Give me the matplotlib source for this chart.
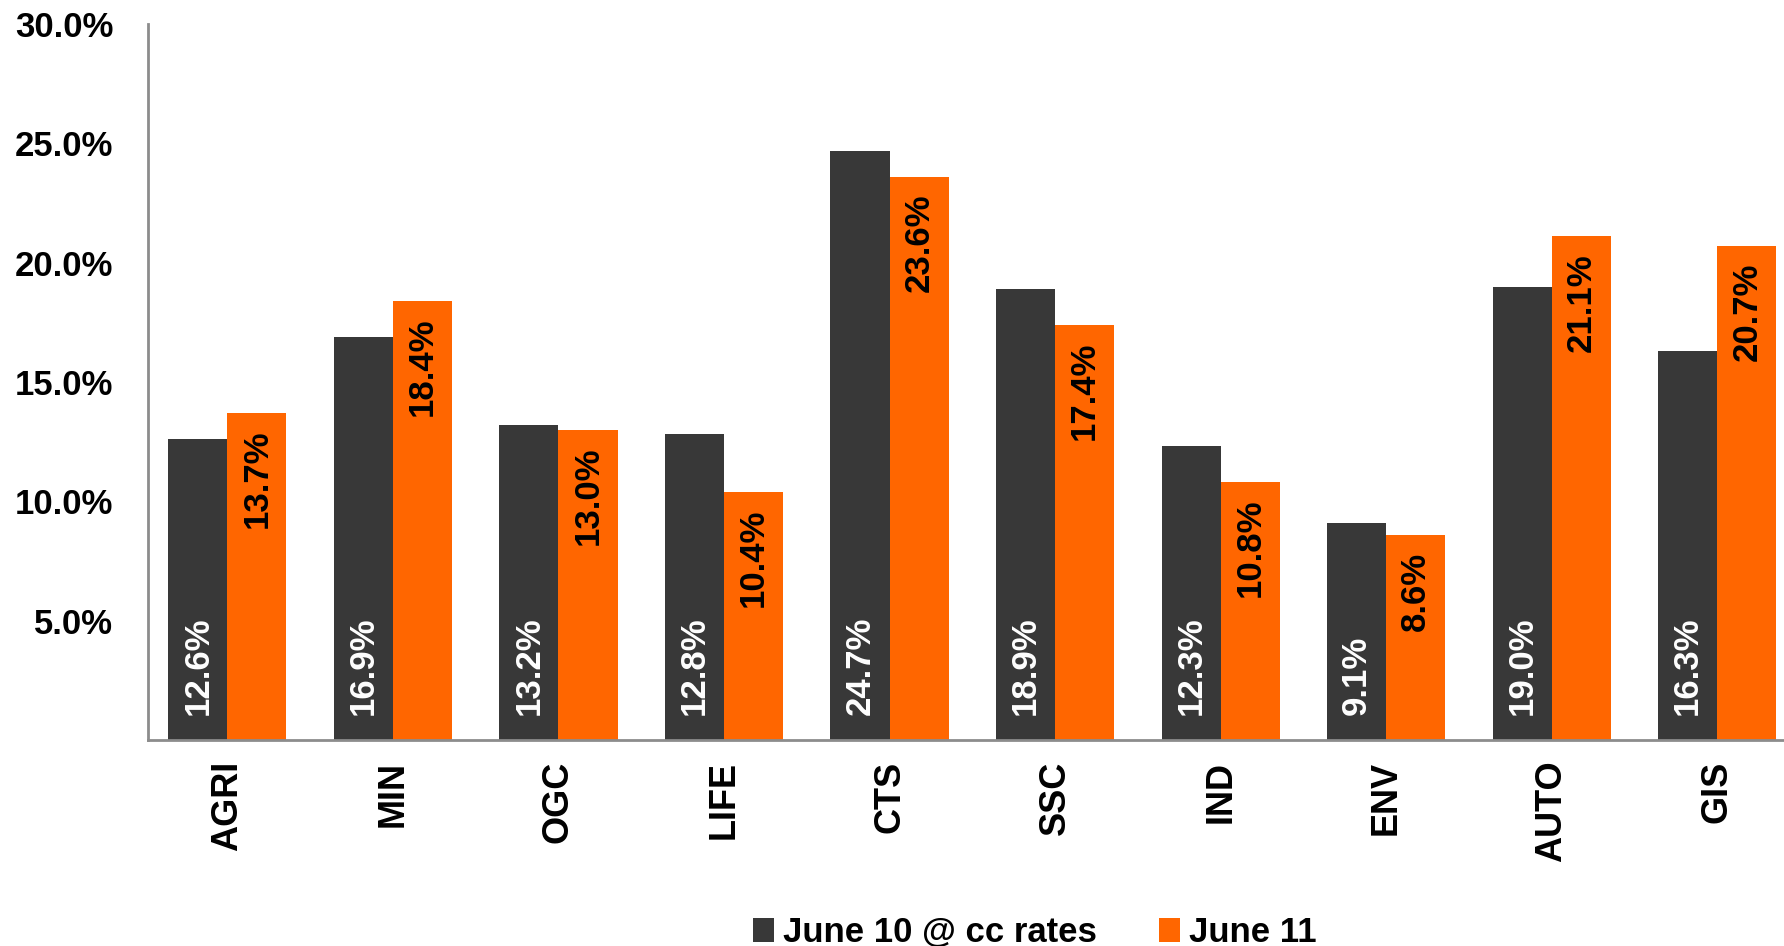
import numpy as np
import matplotlib
matplotlib.use("Agg")
import matplotlib.pyplot as plt

plt.rcParams['font.family'] = ['Liberation Sans', 'DejaVu Sans']
plt.rcParams['font.weight'] = 'bold'

categories = ['AGRI', 'MIN', 'OGC', 'LIFE', 'CTS', 'SSC', 'IND', 'ENV', 'AUTO', 'GIS']
june10 = [12.6, 16.9, 13.2, 12.8, 24.7, 18.9, 12.3, 9.1, 19.0, 16.3]
june11 = [13.7, 18.4, 13.0, 10.4, 23.6, 17.4, 10.8, 8.6, 21.1, 20.7]
yticks = [5, 10, 15, 20, 25, 30]

dark = '#383838'
orange = '#ff6600'
spine_col = '#8c8c8c'

fig = plt.figure(figsize=(17.84, 9.46), dpi=100)
ax = fig.add_axes([0.083, 0.2178, 0.926, 0.7568])

x = np.arange(len(categories))
w = 0.357
b1 = ax.bar(x - w / 2, june10, w, color=dark, label='June 10 @ cc rates')
b2 = ax.bar(x + w / 2, june11, w, color=orange, label='June 11')

# labels: white at bottom of dark bars, black at top of orange bars
for xi, v in zip(x - w / 2, june10):
    ax.annotate(f'{v:.1f}%', (xi, 0), xytext=(0, 18), textcoords='offset points',
                rotation=90, ha='center', va='bottom', color='white',
                fontsize=25, fontweight='bold')
for xi, v in zip(x + w / 2, june11):
    ax.annotate(f'{v:.1f}%', (xi, v), xytext=(0, -12), textcoords='offset points',
                rotation=90, ha='center', va='top', color='black',
                fontsize=25, fontweight='bold')

ax.set_xlim(-0.479, len(categories) - 0.5)
ax.set_ylim(0, 30)
ax.set_yticks(yticks)
ax.set_yticklabels([f'{t:.1f}%' for t in yticks], fontsize=25, fontweight='bold')
ax.set_xticks(x)
ax.set_xticklabels(categories, rotation=90, fontsize=26, fontweight='bold')
ax.tick_params(axis='y', length=0, pad=25)
ax.tick_params(axis='x', length=0, pad=15)

for s in ['top', 'right']:
    ax.spines[s].set_visible(False)
for s in ['left', 'bottom']:
    ax.spines[s].set_color(spine_col)
    ax.spines[s].set_linewidth(2)

fig.legend(handles=[b1, b2], loc='center', bbox_to_anchor=(0.58, 0.014),
           ncol=2, frameon=False, handlelength=0.6,
           handleheight=0.72, handletextpad=0.25, columnspacing=1.8,
           prop={'weight': 'bold', 'size': 25})

fig.savefig('out.png', dpi=100)
